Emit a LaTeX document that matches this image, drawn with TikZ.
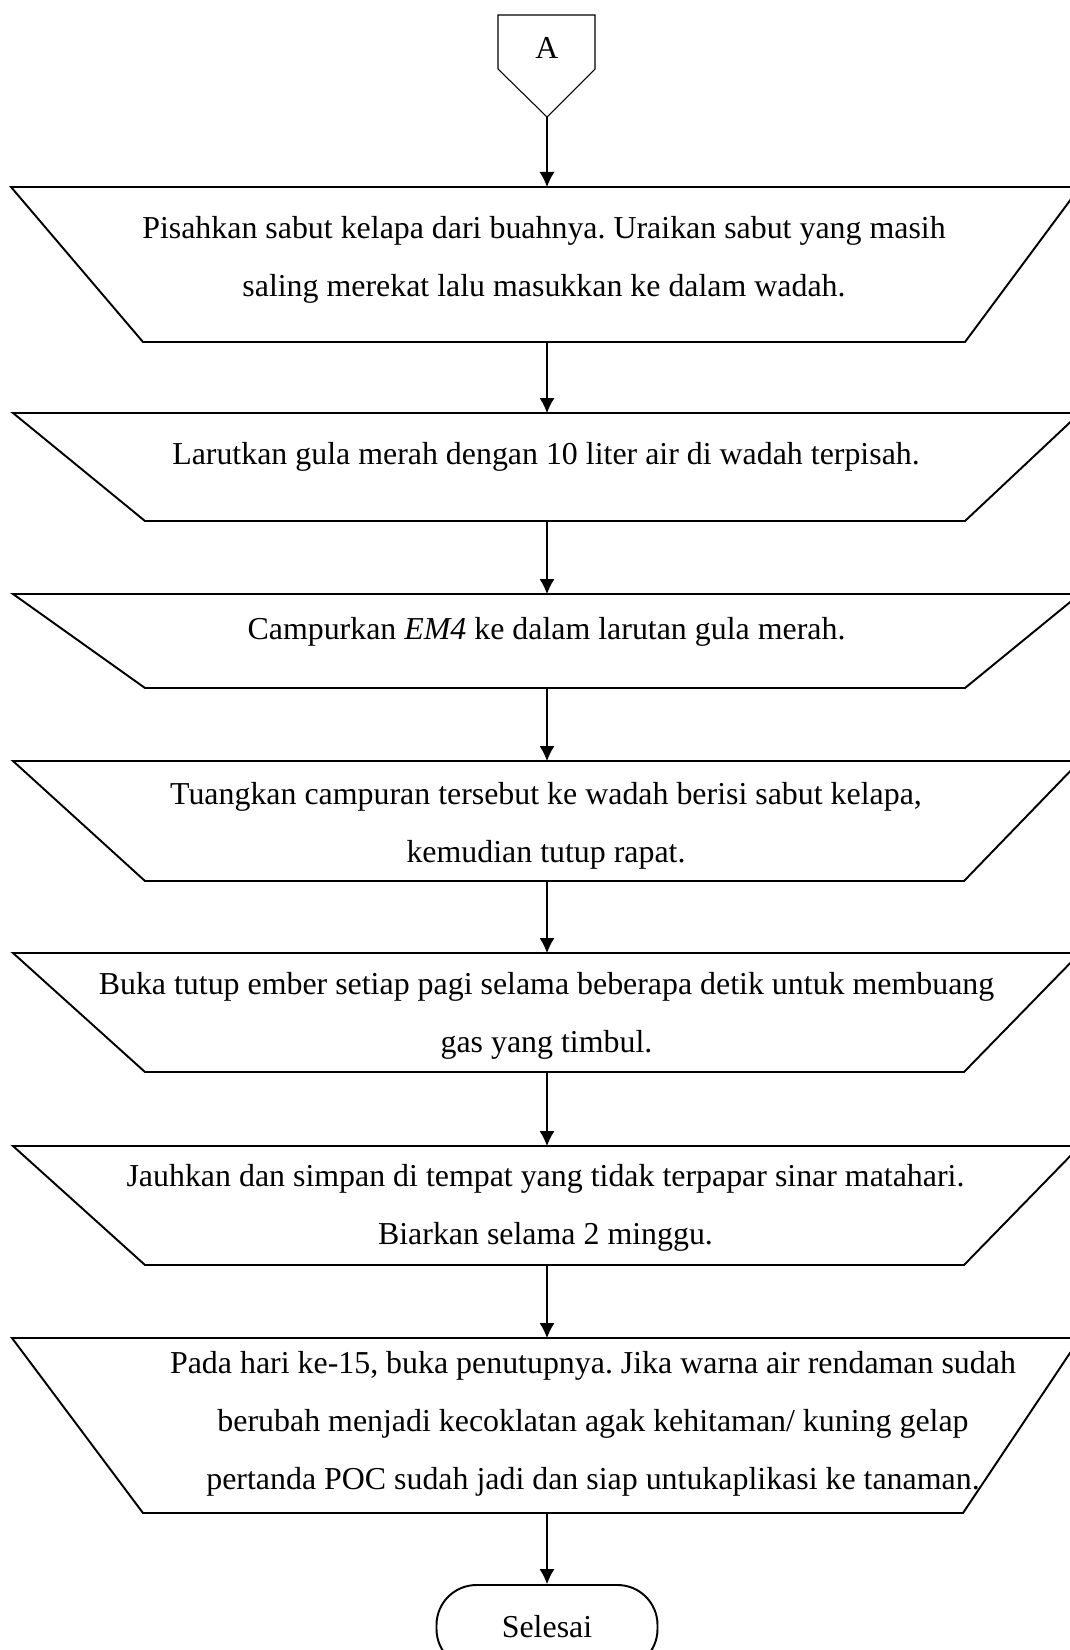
\documentclass[tikz,border=0pt]{standalone}
\usepackage{fontspec}
\setmainfont{Liberation Serif}
\frenchspacing
\usetikzlibrary{arrows.meta}
\tikzset{
  box/.style={line width=1.1pt},
  txt/.style={align=center,font=\fontsize{18.15}{33}\selectfont},
  arr/.style={-{Latex[length=0.3cm,width=0.3cm]},line width=0.6pt},
}
\begin{document}
\begin{tikzpicture}
\useasboundingbox (0,0) rectangle (21.4,-33);

\draw[line width=0.6pt] (9.96,-0.30) -- (11.90,-0.30) -- (11.90,-1.38) -- (10.94,-2.34) -- (9.96,-1.38) -- cycle;
\node[txt](a) at (10.94,-0.96) {A};
\coordinate(pa) at (10.94,-2.34);

\draw[box] (0.22,-3.74) -- (21.6,-3.74) -- (19.30,-6.84) -- (2.86,-6.84) -- cycle;
\draw[box] (0.26,-8.26) -- (21.6,-8.26) -- (19.30,-10.42) -- (2.90,-10.42) -- cycle;
\draw[box] (0.26,-11.88) -- (21.6,-11.88) -- (19.30,-13.76) -- (2.90,-13.76) -- cycle;
\draw[box] (0.26,-15.22) -- (21.6,-15.22) -- (19.28,-17.62) -- (2.90,-17.62) -- cycle;
\draw[box] (0.26,-19.06) -- (21.6,-19.06) -- (19.28,-21.44) -- (2.90,-21.44) -- cycle;
\draw[box] (0.26,-22.92) -- (21.6,-22.92) -- (19.28,-25.30) -- (2.90,-25.30) -- cycle;
\draw[box] (0.24,-26.76) -- (21.6,-26.76) -- (19.26,-30.26) -- (2.86,-30.26) -- cycle;

\node[txt](s1) at (10.88,-5.20) {Pisahkan sabut kelapa dari buahnya. Uraikan sabut yang masih\\saling merekat lalu masukkan ke dalam wadah.};
\node[txt](s2) at (10.92,-9.14) {Larutkan gula merah dengan 10 liter air di wadah terpisah.};
\node[txt](s3) at (10.93,-12.64) {Campurkan \textit{EM4} ke dalam larutan gula merah.};
\node[txt](s4) at (10.92,-16.52) {Tuangkan campuran tersebut ke wadah berisi sabut kelapa,\\kemudian tutup rapat.};
\node[txt](s5) at (10.93,-20.32) {Buka tutup ember setiap pagi selama beberapa detik untuk membuang\\gas yang timbul.};
\node[txt](s6) at (10.91,-24.16) {Jauhkan dan simpan di tempat yang tidak terpapar sinar matahari.\\Biarkan selama 2 minggu.};
\node[txt](s7) at (11.86,-28.48) {Pada hari ke-15, buka penutupnya. Jika warna air rendaman sudah\\berubah menjadi kecoklatan agak kehitaman/ kuning gelap\\pertanda POC sudah jadi dan siap untukaplikasi ke tanaman.};

\coordinate(t1) at (10.94,-3.74);
\coordinate(b1) at (10.94,-6.84);
\coordinate(t2) at (10.94,-8.26);
\coordinate(b2) at (10.94,-10.42);
\coordinate(t3) at (10.94,-11.88);
\coordinate(b3) at (10.94,-13.76);
\coordinate(t4) at (10.94,-15.22);
\coordinate(b4) at (10.94,-17.62);
\coordinate(t5) at (10.94,-19.06);
\coordinate(b5) at (10.94,-21.44);
\coordinate(t6) at (10.94,-22.92);
\coordinate(b6) at (10.94,-25.30);
\coordinate(t7) at (10.94,-26.76);
\coordinate(b7) at (10.94,-30.26);

\node[txt,draw,line width=1.1pt,rounded corners=0.8cm,minimum width=4.42cm,minimum height=1.68cm](selesai) at (10.94,-32.54) {Selesai};

\draw[arr] (pa) -- (t1);
\draw[arr] (b1) -- (t2);
\draw[arr] (b2) -- (t3);
\draw[arr] (b3) -- (t4);
\draw[arr] (b4) -- (t5);
\draw[arr] (b5) -- (t6);
\draw[arr] (b6) -- (t7);
\draw[arr] (b7) -- (selesai.north);

\end{tikzpicture}
\end{document}
